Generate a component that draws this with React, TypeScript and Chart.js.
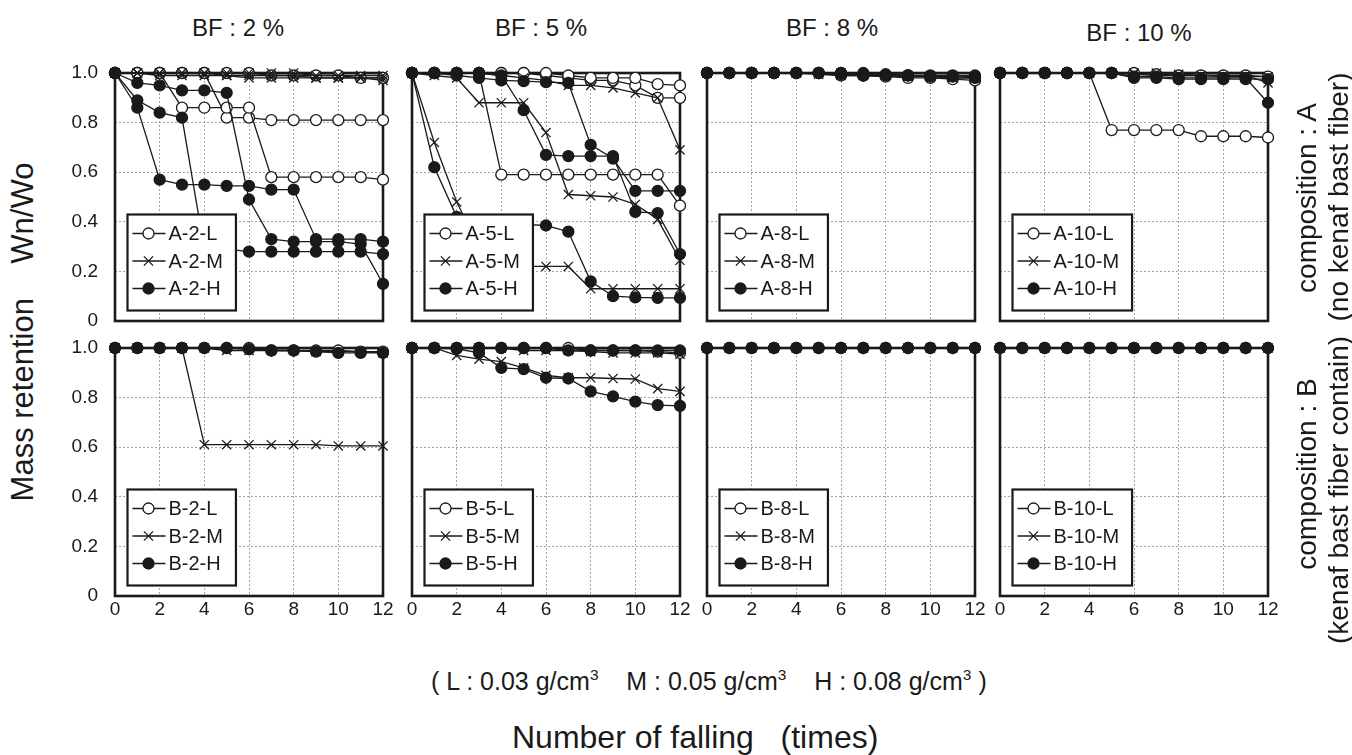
import React, { useEffect, useRef } from 'react';
import { Chart, registerables } from 'chart.js';

Chart.register(...registerables);

const FONT = '"Liberation Sans", Arial, Helvetica, sans-serif';

// ---------- data ----------
const FALLS = [0, 1, 2, 3, 4, 5, 6, 7, 8, 9, 10, 11, 12];
const X_TICKS = [0, 2, 4, 6, 8, 10, 12];
const Y_TICKS = [0, 0.2, 0.4, 0.6, 0.8, 1.0];

const BF_TITLES = ['BF : 2 %', 'BF : 5 %', 'BF : 8 %', 'BF : 10 %'];

// composition A, BF 2 %
const A2_L1 = [1, 1, 1, 0.86, 0.86, 0.86, 0.86, 0.58, 0.58, 0.58, 0.58, 0.58, 0.57];
const A2_L2 = [1, 1, 1, 1, 1, 0.82, 0.82, 0.81, 0.81, 0.81, 0.81, 0.81, 0.81];
const A2_L3 = [1, 1, 1, 1, 1, 1, 1, 0.99, 0.99, 0.99, 0.99, 0.98, 0.98];
const A2_M1 = [1, 1, 1, 1, 1, 0.99, 0.99, 0.99, 0.99, 0.98, 0.98, 0.98, 0.98];
const A2_M2 = [1, 1, 0.99, 0.99, 0.99, 0.99, 0.98, 0.98, 0.98, 0.98, 0.98, 0.98, 0.97];
const A2_M3 = [1, 1, 1, 1, 1, 1, 1, 1, 1, 0.99, 0.99, 0.99, 0.99];
const A2_H1 = [1, 0.96, 0.95, 0.93, 0.93, 0.92, 0.49, 0.33, 0.32, 0.32, 0.32, 0.31, 0.15];
const A2_H2 = [1, 0.89, 0.84, 0.82, 0.29, 0.29, 0.28, 0.28, 0.28, 0.28, 0.28, 0.28, 0.27];
const A2_H3 = [1, 0.86, 0.57, 0.55, 0.55, 0.545, 0.545, 0.53, 0.53, 0.33, 0.33, 0.33, 0.32];

// composition A, BF 5 %
const A5_L1 = [1, 1, 1, 1, 1, 1, 1, 0.99, 0.98, 0.98, 0.98, 0.955, 0.95];
const A5_L2 = [1, 1, 1, 1, 1, 1, 0.99, 0.98, 0.97, 0.97, 0.95, 0.9, 0.9];
const A5_L3 = [1, 1, 1, 1, 0.59, 0.59, 0.59, 0.59, 0.59, 0.59, 0.59, 0.59, 0.465];
const A5_M1 = [1, 0.72, 0.48, 0.3, 0.25, 0.22, 0.22, 0.22, 0.13, 0.13, 0.13, 0.13, 0.13];
const A5_M2 = [1, 0.99, 0.98, 0.88, 0.88, 0.88, 0.76, 0.51, 0.505, 0.5, 0.47, 0.41, 0.245];
const A5_M3 = [1, 1, 1, 1, 0.99, 0.98, 0.97, 0.95, 0.95, 0.94, 0.92, 0.9, 0.69];
const A5_H1 = [1, 0.62, 0.42, 0.4, 0.39, 0.39, 0.385, 0.36, 0.16, 0.1, 0.095, 0.093, 0.093];
const A5_H2 = [1, 1, 1, 1, 0.99, 0.85, 0.67, 0.665, 0.665, 0.665, 0.44, 0.435, 0.27];
const A5_H3 = [1, 1, 0.99, 0.98, 0.97, 0.967, 0.963, 0.96, 0.71, 0.655, 0.525, 0.525, 0.525];

// composition A, BF 8 %
const A8_L1 = [1, 1, 1, 1, 1, 1, 0.99, 0.99, 0.985, 0.98, 0.98, 0.975, 0.97];
const A8_L2 = [1, 1, 1, 1, 1, 1, 1, 0.99, 0.99, 0.99, 0.985, 0.98, 0.98];
const A8_M1 = [1, 1, 1, 1, 1, 0.995, 0.99, 0.99, 0.99, 0.985, 0.985, 0.98, 0.98];
const A8_M2 = [1, 1, 1, 1, 1, 1, 1, 0.995, 0.99, 0.99, 0.99, 0.99, 0.985];
const A8_H1 = [1, 1, 1, 1, 1, 1, 0.995, 0.99, 0.99, 0.99, 0.985, 0.985, 0.98];
const A8_H2 = [1, 1, 1, 1, 1, 1, 1, 1, 0.995, 0.99, 0.99, 0.99, 0.99];

// composition A, BF 10 %
const A10_L1 = [1, 1, 1, 1, 1, 0.77, 0.77, 0.77, 0.77, 0.745, 0.745, 0.745, 0.74];
const A10_L2 = [1, 1, 1, 1, 1, 1, 1, 0.995, 0.99, 0.99, 0.99, 0.99, 0.985];
const A10_M1 = [1, 1, 1, 1, 1, 1, 1, 1, 0.995, 0.99, 0.99, 0.99, 0.96];
const A10_M2 = [1, 1, 1, 1, 1, 1, 0.995, 0.99, 0.99, 0.99, 0.985, 0.985, 0.985];
const A10_H1 = [1, 1, 1, 1, 1, 1, 0.98, 0.98, 0.975, 0.975, 0.975, 0.975, 0.975];
const A10_H2 = [1, 1, 1, 1, 1, 1, 0.985, 0.985, 0.98, 0.98, 0.98, 0.98, 0.88];

// composition B, BF 2 %
const B2_L1 = [1, 1, 1, 1, 1, 1, 1, 0.99, 0.99, 0.99, 0.99, 0.985, 0.985];
const B2_M1 = [1, 1, 1, 1, 0.61, 0.61, 0.61, 0.61, 0.61, 0.61, 0.605, 0.605, 0.605];
const B2_M2 = [1, 1, 1, 1, 1, 0.99, 0.99, 0.99, 0.99, 0.985, 0.985, 0.985, 0.98];
const B2_H1 = [1, 1, 1, 1, 1, 1, 0.995, 0.99, 0.99, 0.985, 0.98, 0.98, 0.98];

// composition B, BF 5 %
const B5_L1 = [1, 1, 1, 1, 1, 1, 1, 1, 0.99, 0.99, 0.99, 0.985, 0.98];
const B5_M1 = [1, 1, 0.97, 0.955, 0.945, 0.92, 0.89, 0.88, 0.88, 0.877, 0.875, 0.836, 0.825];
const B5_M2 = [1, 1, 1, 1, 1, 0.99, 0.99, 0.99, 0.985, 0.98, 0.98, 0.98, 0.975];
const B5_H1 = [1, 1, 0.997, 0.98, 0.92, 0.915, 0.88, 0.877, 0.825, 0.805, 0.784, 0.77, 0.767];
const B5_H2 = [1, 1, 1, 1, 1, 1, 1, 0.99, 0.99, 0.99, 0.99, 0.99, 0.99];

// composition B, BF 8 %
const B8_L1 = [1, 1, 1, 1, 1, 1, 1, 1, 1, 1, 1, 1, 1];
const B8_M1 = [1, 1, 1, 1, 1, 1, 1, 1, 1, 1, 1, 1, 1];
const B8_H1 = [1, 1, 1, 1, 1, 1, 1, 1, 1, 1, 1, 1, 1];

// composition B, BF 10 %
const B10_L1 = [1, 1, 1, 1, 1, 1, 1, 1, 1, 1, 1, 1, 1];
const B10_M1 = [1, 1, 1, 1, 1, 1, 1, 1, 1, 1, 1, 1, 1];
const B10_H1 = [1, 1, 1, 1, 1, 1, 1, 1, 1, 1, 1, 1, 1];

type Panel = { id: string; row: number; col: number; L: number[][]; M: number[][]; H: number[][] };

const PANELS: Panel[] = [
  { id: 'A-2', row: 0, col: 0, L: [A2_L1, A2_L2, A2_L3], M: [A2_M1, A2_M2, A2_M3], H: [A2_H1, A2_H2, A2_H3] },
  { id: 'A-5', row: 0, col: 1, L: [A5_L1, A5_L2, A5_L3], M: [A5_M1, A5_M2, A5_M3], H: [A5_H1, A5_H2, A5_H3] },
  { id: 'A-8', row: 0, col: 2, L: [A8_L1, A8_L2], M: [A8_M1, A8_M2], H: [A8_H1, A8_H2] },
  { id: 'A-10', row: 0, col: 3, L: [A10_L1, A10_L2], M: [A10_M1, A10_M2], H: [A10_H1, A10_H2] },
  { id: 'B-2', row: 1, col: 0, L: [B2_L1], M: [B2_M1, B2_M2], H: [B2_H1] },
  { id: 'B-5', row: 1, col: 1, L: [B5_L1], M: [B5_M1, B5_M2], H: [B5_H1, B5_H2] },
  { id: 'B-8', row: 1, col: 2, L: [B8_L1], M: [B8_M1], H: [B8_H1] },
  { id: 'B-10', row: 1, col: 3, L: [B10_L1], M: [B10_M1], H: [B10_H1] },
];

// ---------- layout ----------
const COL_LEFT = [115, 412, 707, 1000];
const ROW_TOP = [73, 348];
const PLOT_W = 268;
const PLOT_H = 248;
const LW = 60;
const TP = 14;
const RP = 16;
const BH = 40;
const CW = LW + PLOT_W + RP;
const CH = TP + PLOT_H + BH;
const INK = '#1a1a1a';

const framePlugin = {
  id: 'frame',
  beforeDatasetsDraw(chart: any) {
    const { ctx, chartArea: a } = chart;
    ctx.save();
    ctx.strokeStyle = INK;
    ctx.lineWidth = 2.6;
    ctx.strokeRect(a.left, a.top, a.right - a.left, a.bottom - a.top);
    ctx.restore();
  },
};

function drawMarker(ctx: CanvasRenderingContext2D, kind: string, x: number, y: number) {
  ctx.save();
  ctx.strokeStyle = INK;
  ctx.lineWidth = 1.3;
  if (kind === 'M') {
    const r = 6.5 * Math.SQRT1_2;
    ctx.beginPath();
    ctx.moveTo(x - r, y - r);
    ctx.lineTo(x + r, y + r);
    ctx.moveTo(x - r, y + r);
    ctx.lineTo(x + r, y - r);
    ctx.stroke();
  } else {
    ctx.beginPath();
    ctx.arc(x, y, 5.5, 0, Math.PI * 2);
    ctx.fillStyle = kind === 'L' ? '#fff' : INK;
    ctx.fill();
    ctx.stroke();
  }
  ctx.restore();
}

function legendPlugin(panel: Panel) {
  return {
    id: 'boxLegend',
    afterDatasetsDraw(chart: any) {
      const { ctx, chartArea: a } = chart;
      const kinds = ['L', 'M', 'H'];
      ctx.save();
      ctx.font = `20px ${FONT}`;
      const labels = kinds.map((k) => `${panel.id}-${k}`);
      const tw = Math.max(...labels.map((l) => ctx.measureText(l).width));
      const w = 41 + tw + 13;
      const h = 96;
      const x0 = a.left + 12.5;
      const y0 = a.bottom - 10.5 - h;
      ctx.fillStyle = '#fff';
      ctx.fillRect(x0, y0, w, h);
      ctx.strokeStyle = INK;
      ctx.lineWidth = 2.2;
      ctx.strokeRect(x0, y0, w, h);
      kinds.forEach((k, i) => {
        const y = y0 + 19 + i * 27.5;
        ctx.strokeStyle = INK;
        ctx.lineWidth = 1.3;
        ctx.beginPath();
        ctx.moveTo(x0 + 5, y);
        ctx.lineTo(x0 + 38, y);
        ctx.stroke();
        drawMarker(ctx, k, x0 + 21, y);
        ctx.fillStyle = INK;
        ctx.textBaseline = 'middle';
        ctx.textAlign = 'left';
        ctx.font = `20px ${FONT}`;
        ctx.fillText(labels[i], x0 + 41, y + 1);
      });
      ctx.restore();
    },
  };
}

function buildDatasets(panel: Panel) {
  const out: any[] = [];
  const add = (arr: number[], kind: string, idx: number) => {
    out.push({
      label: `${panel.id}-${kind}${idx > 0 ? ' (' + (idx + 1) + ')' : ''}`,
      data: FALLS.map((x, i) => ({ x, y: arr[i] })),
      borderColor: INK,
      borderWidth: 1.3,
      backgroundColor: kind === 'L' ? '#fff' : INK,
      pointStyle: kind === 'M' ? 'crossRot' : 'circle',
      pointRadius: kind === 'M' ? 6.5 : 5.5,
      pointBorderWidth: 1.3,
      pointBorderColor: INK,
      pointBackgroundColor: kind === 'L' ? '#fff' : INK,
      fill: false,
      tension: 0,
      clip: false,
      order: kind === 'M' ? 0 : kind === 'H' ? 1 : 2,
    });
  };
  panel.L.forEach((a, i) => add(a, 'L', i));
  panel.H.forEach((a, i) => add(a, 'H', i));
  panel.M.forEach((a, i) => add(a, 'M', i));
  return out;
}

function makeConfig(panel: Panel): any {
  const showY = panel.col === 0;
  const showX = panel.row === 1;
  const grid = { color: '#8c8c8c', lineWidth: 0.8, drawTicks: false };
  const border = { display: false, dash: [2, 2] };
  return {
    type: 'line',
    data: { datasets: buildDatasets(panel) },
    options: {
      animation: false,
      responsive: false,
      maintainAspectRatio: false,
      devicePixelRatio: 1,
      events: [],
      layout: { padding: { top: TP, right: RP, left: 0, bottom: 0 } },
      plugins: { legend: { display: false }, tooltip: { enabled: false }, title: { display: false } },
      scales: {
        x: {
          type: 'linear',
          min: 0,
          max: 12,
          afterBuildTicks: (s: any) => {
            s.ticks = X_TICKS.map((v) => ({ value: v }));
          },
          afterFit: (s: any) => {
            s.height = BH;
            s.paddingLeft = 0;
            s.paddingRight = 0;
            s.paddingTop = 0;
            s.paddingBottom = 0;
          },
          grid,
          border,
          ticks: {
            display: showX,
            padding: 2,
            color: INK,
            autoSkip: false,
            maxRotation: 0,
            font: { family: FONT, size: 19 },
            callback: (v: any) => String(v),
          },
        },
        y: {
          type: 'linear',
          min: 0,
          max: 1,
          afterBuildTicks: (s: any) => {
            s.ticks = Y_TICKS.map((v) => ({ value: v }));
          },
          afterFit: (s: any) => {
            s.width = LW;
            s.paddingLeft = 0;
            s.paddingRight = 0;
            s.paddingTop = 0;
            s.paddingBottom = 0;
          },
          grid,
          border,
          ticks: {
            display: showY,
            padding: 17,
            color: INK,
            font: { family: FONT, size: 19 },
            callback: (v: any) => (Number(v) === 0 ? '0' : Number(v).toFixed(1)),
          },
        },
      },
    },
    plugins: [framePlugin, legendPlugin(panel)],
  };
}

function PanelChart({ panel }: { panel: Panel }) {
  const ref = useRef<HTMLCanvasElement | null>(null);
  useEffect(() => {
    if (!ref.current) return;
    const chart = new Chart(ref.current, makeConfig(panel));
    return () => chart.destroy();
  }, [panel]);
  return (
    <canvas
      ref={ref}
      width={CW}
      height={CH}
      style={{
        position: 'absolute',
        left: COL_LEFT[panel.col] - LW,
        top: ROW_TOP[panel.row] - TP,
        width: CW,
        height: CH,
      }}
    />
  );
}

function Label({
  x,
  y,
  size,
  rotate,
  anchor,
  children,
}: {
  x: number;
  y: number;
  size: number;
  rotate?: boolean;
  anchor?: 'left' | 'center';
  children: React.ReactNode;
}) {
  const tx = anchor === 'left' ? '0' : '-50%';
  return (
    <div
      style={{
        position: 'absolute',
        left: x,
        top: y,
        fontSize: size,
        lineHeight: 1,
        whiteSpace: 'pre',
        color: INK,
        transform: `translate(${tx}, -50%)${rotate ? ' rotate(-90deg)' : ''}`,
        transformOrigin: anchor === 'left' ? 'left center' : 'center center',
      }}
    >
      {children}
    </div>
  );
}

const Sup = () => (
  <span style={{ fontSize: '0.62em', verticalAlign: '0.62em', lineHeight: 0 }}>3</span>
);

const TITLE_X = [238, 541, 832, 1139];
const TITLE_Y = [28, 28, 28, 33];

export default function App() {
  return (
    <div
      style={{
        position: 'fixed',
        left: 0,
        top: 0,
        width: 1352,
        height: 755,
        background: '#fff',
        overflow: 'hidden',
        fontFamily: FONT,
      }}
    >
      {PANELS.map((p) => (
        <PanelChart key={p.id} panel={p} />
      ))}
      {BF_TITLES.map((t, i) => (
        <Label key={t} x={TITLE_X[i]} y={TITLE_Y[i]} size={24}>
          {t}
        </Label>
      ))}
      <Label x={22} y={332} size={31} rotate>
        {'Mass retention    Wn/Wo'}
      </Label>
      <Label x={1307} y={198} size={28} rotate>
        {'composition : A'}
      </Label>
      <Label x={1339} y={197} size={28} rotate>
        {'(no kenaf bast fiber)'}
      </Label>
      <Label x={1307} y={474} size={28} rotate>
        {'composition : B'}
      </Label>
      <Label x={1339} y={490} size={28} rotate>
        {'(kenaf bast fiber contain)'}
      </Label>
      <Label x={431} y={681} size={25} anchor="left">
        {'( L : 0.03 g/cm'}
        <Sup />
        {'    M : 0.05 g/cm'}
        <Sup />
        {'    H : 0.08 g/cm'}
        <Sup />
        {' )'}
      </Label>
      <Label x={512} y={737} size={32} anchor="left">
        {'Number of falling   (times)'}
      </Label>
    </div>
  );
}
